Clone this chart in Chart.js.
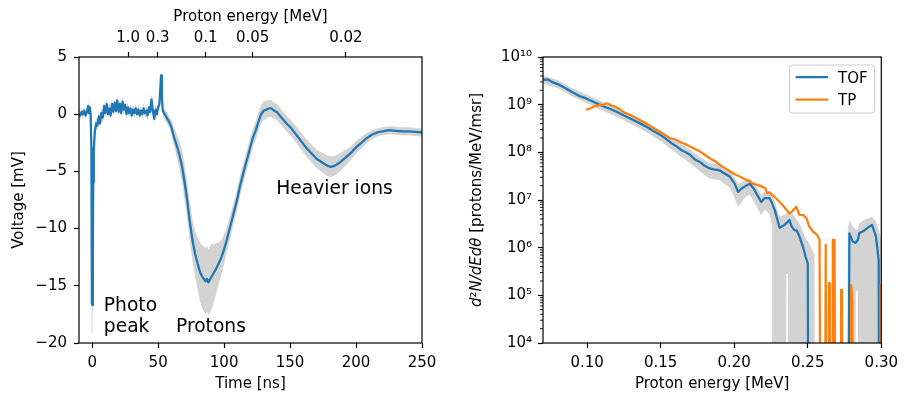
<!DOCTYPE html>
<html lang="en">
<head>
<meta charset="utf-8">
<title>Proton time-of-flight spectrum</title>
<script src="https://cdn.jsdelivr.net/npm/chart.js@4.4.1/dist/chart.umd.min.js"></script>
<style>
	html, body { margin: 0; padding: 0; background: #fff; }
	.figure { position: relative; width: 904px; height: 396px; }
	.panel { position: absolute; top: 0; width: 452px; height: 396px; }
	.panel--left { left: 0; }
	.panel--right { left: 452px; }
</style>
</head>
<body>
<div class="figure">
	<div class="panel panel--left"><canvas id="traceChart"></canvas></div>
	<div class="panel panel--right"><canvas id="spectrumChart"></canvas></div>
</div>
<script>
// ---- detector trace (left panel) ----
const timeNs = [
	-10, -9, -8, -7, -6, -5, -4, -3, -2.4, -1.8,
	-1.2, -0.6, -0.35, -0.15, 0.25, 0.5, 0.8, 1.2, 2.0, 3.0,
	4, 5, 6, 7, 8, 9, 10, 11, 12, 13,
	14, 15, 16, 17, 18, 19, 20, 21, 22, 23,
	24, 25, 26, 27, 28, 29, 30, 31, 32, 33,
	34, 35, 36, 37, 38, 39, 40, 41, 42, 43,
	44, 45, 46, 47, 48, 49, 50, 51, 51.6, 52.2,
	52.8, 53.5, 54.5, 56, 58, 60, 62, 64, 66, 68,
	70, 72, 74, 76, 78, 80, 82, 84, 86, 87,
	88, 90, 92, 94, 96, 98, 100, 102, 104, 106,
	108, 110, 112, 114, 116, 118, 120, 122, 124, 126,
	128, 130, 132, 134, 136, 138, 140, 142, 145, 148,
	150, 154, 158, 162, 166, 170, 174, 178, 181, 184,
	188, 192, 196, 200, 204, 208, 212, 216, 220, 225,
	230, 235, 240, 245, 250
];
const voltageMv = [
	0.0, -0.1, 0.2, 0.0, 0.3, -0.1, 0.2, 0.7, 0.1, 0.6,
	0.0, -3.0, -12.0, -16.5, -16.7, -12.0, -6.0, -3.2, -1.5, -0.8,
	-1.0, -0.2, -0.8, 0.1, -0.3, 0.7, 0.1, 0.9, 0.0, 0.5,
	-0.1, 0.9, 0.2, 1.0, 0.3, 1.2, 0.2, 0.9, 0.1, 1.1,
	0.4, 0.8, 0.0, 0.6, 0.1, 0.5, -0.1, 0.4, 0.1, 0.5,
	0.0, 0.4, -0.1, 0.3, 0.0, 0.5, 0.1, 0.3, -0.1, 0.6,
	0.2, 1.3, 0.3, -0.4, 0.4, 0.0, 0.6, 0.9, 2.2, 3.4,
	1.6, 0.3, 0.1, -0.2, -0.6, -1.1, -2.0, -2.7, -3.5, -4.5,
	-5.9, -7.5, -9.4, -11.0, -12.2, -13.1, -13.9, -14.3, -14.6, -14.4,
	-14.7, -14.3, -13.9, -13.5, -13.0, -12.5, -11.8, -11.0, -10.1, -9.2,
	-8.3, -7.4, -6.3, -5.4, -4.5, -3.7, -2.8, -2.0, -1.4, -0.7,
	0.0, 0.3, 0.4, 0.5, 0.5, 0.3, 0.2, -0.1, -0.5, -0.9,
	-1.1, -1.7, -2.3, -2.9, -3.4, -3.9, -4.2, -4.5, -4.6, -4.5,
	-4.2, -3.8, -3.4, -2.9, -2.5, -2.1, -1.8, -1.6, -1.5, -1.4,
	-1.45, -1.5, -1.5, -1.55, -1.6
];
// shot-to-shot spread, drawn as the grey band
const voltageErr = [
	0.35, 0.35, 0.35, 0.35, 0.35, 0.35, 0.35, 0.45, 0.4, 0.4,
	0.4, 0.8, 2.0, 2.6, 2.5, 2.0, 1.2, 0.8, 0.6, 0.5,
	0.45, 0.45, 0.45, 0.45, 0.45, 0.45, 0.45, 0.45, 0.45, 0.45,
	0.45, 0.45, 0.45, 0.45, 0.45, 0.45, 0.45, 0.45, 0.45, 0.45,
	0.45, 0.45, 0.45, 0.45, 0.45, 0.45, 0.45, 0.45, 0.45, 0.45,
	0.45, 0.45, 0.45, 0.45, 0.45, 0.45, 0.45, 0.45, 0.45, 0.45,
	0.45, 0.45, 0.45, 0.45, 0.45, 0.45, 0.45, 0.45, 0.4, 0.4,
	0.45, 0.45, 0.45, 0.5, 0.5, 0.6, 0.8, 1.0, 1.2, 1.4,
	1.5, 1.6, 1.7, 1.8, 2.0, 2.3, 2.6, 2.8, 2.9, 2.9,
	2.9, 2.9, 2.6, 2.2, 1.8, 1.5, 1.3, 1.1, 1.0, 0.95,
	0.9, 0.9, 0.9, 0.85, 0.85, 0.85, 0.85, 0.8, 0.8, 0.8,
	0.8, 0.8, 0.8, 0.75, 0.75, 0.7, 0.7, 0.7, 0.7, 0.7,
	0.7, 0.7, 0.75, 0.75, 0.8, 0.8, 0.85, 0.9, 0.9, 0.85,
	0.8, 0.7, 0.6, 0.55, 0.5, 0.45, 0.4, 0.35, 0.35, 0.35,
	0.35, 0.35, 0.35, 0.35, 0.35
];
const timeTicks = [0, 50, 100, 150, 200, 250];
const voltageTicks = [-20, -15, -10, -5, 0, 5];
const topEnergyTicks = [1.0, 0.3, 0.1, 0.05, 0.02];
const topEnergyLabels = ['1.0', '0.3', '0.1', '0.05', '0.02'];

// ---- proton spectrum (right panel), 0 = empty bin ----
const tofEnergy = [
	0.0700, 0.0715, 0.0730, 0.0745, 0.0760, 0.0800, 0.0850, 0.0900, 0.0950, 0.1000,
	0.1050, 0.1100, 0.1150, 0.1200, 0.1250, 0.1300, 0.1350, 0.1400, 0.1450, 0.1500,
	0.1550, 0.1580, 0.1610, 0.1640, 0.1670, 0.1700, 0.1730, 0.1766, 0.1800, 0.1834,
	0.1860, 0.1900, 0.1940, 0.1970, 0.2003, 0.2026, 0.2050, 0.2070, 0.2105, 0.2130,
	0.2150, 0.2184, 0.2207, 0.2240, 0.2255, 0.2275, 0.2309, 0.2342, 0.2376, 0.2390,
	0.2410, 0.2425, 0.2444, 0.2467, 0.2485, 0.2500, 0.2508, 0.2772, 0.2783, 0.2805,
	0.2825, 0.2840, 0.2850, 0.2885, 0.2918, 0.2937, 0.2964, 0.2982, 0.2988, 0.3000
];
const tofCounts = [
	3.4e9, 3.3e9, 3.4e9, 3.2e9, 3.0e9, 2.7e9, 2.24e9, 1.82e9, 1.51e9, 1.32e9,
	1.12e9, 9.5e8, 8.3e8, 7.1e8, 5.9e8, 5.0e8, 4.2e8, 3.5e8, 2.8e8, 2.3e8,
	1.78e8, 1.51e8, 1.32e8, 1.12e8, 1.0e8, 8.9e7, 7.2e7, 6.3e7, 5.2e7, 4.6e7,
	4.4e7, 4.2e7, 3.5e7, 3.1e7, 2.2e7, 1.48e7, 1.74e7, 1.91e7, 2.2e7, 1.78e7,
	1.38e7, 9.1e6, 1.1e7, 1.1e7, 8.9e6, 6.2e6, 2.6e6, 3.0e6, 3.8e6, 2.8e6,
	2.3e6, 2.3e6, 1.7e6, 1.05e6, 6.5e5, 4.7e5, 0, 0, 2.0e6, 1.35e6,
	1.26e6, 1.45e6, 2.0e6, 2.3e6, 2.75e6, 3.0e6, 1.7e6, 5.5e5, 0, 0
];
const bandEnergy = [
	0.0700, 0.0800, 0.0900, 0.1000, 0.1100, 0.1200, 0.1300, 0.1400, 0.1500, 0.1580,
	0.1640, 0.1700, 0.1766, 0.1834, 0.1900, 0.1970, 0.2003, 0.2026, 0.2070, 0.2105,
	0.2150, 0.2184, 0.2207, 0.2240, 0.2258, 0.2262, 0.2309, 0.2350, 0.2354, 0.2365,
	0.2370, 0.2400, 0.2444, 0.2485, 0.2512, 0.2546, 0.2550, 0.2765, 0.2772, 0.2783,
	0.2805, 0.2825, 0.2826, 0.2840, 0.2841, 0.2850, 0.2885, 0.2937, 0.2964, 0.2982,
	0.3000
];
const bandHi = [
	4.1e9, 3.3e9, 2.2e9, 1.62e9, 1.17e9, 8.7e8, 6.2e8, 4.4e8, 2.9e8, 1.95e8,
	1.5e8, 1.15e8, 8.1e7, 6.0e7, 5.5e7, 4.0e7, 3.0e7, 2.2e7, 2.6e7, 2.9e7,
	1.9e7, 1.3e7, 1.5e7, 1.5e7, 1.3e7, 1.2e7, 4.5e6, 5.0e6, 5.2e6, 5.6e6,
	5.8e6, 5.0e6, 3.2e6, 1.6e6, 1.2e6, 7e5, 0, 0, 2.5e6, 3.7e6,
	2.8e6, 2.4e6, 2.4e6, 2.4e6, 2.5e6, 3.3e6, 3.8e6, 4.4e6, 3.5e6, 2.5e6,
	1.5e6
];
const bandLo = [
	2.75e9, 2.2e9, 1.48e9, 1.07e9, 7.6e8, 5.6e8, 3.9e8, 2.7e8, 1.7e8, 1.1e8,
	8.0e7, 6.0e7, 4.0e7, 2.8e7, 2.6e7, 1.8e7, 1.1e7, 7.1e6, 1.1e7, 1.3e7,
	7.6e6, 4.8e6, 6.3e6, 5.0e6, 3.0e6, 0, 0, 0, 2.8e5, 2.8e5,
	0, 0, 0, 0, 0, 0, 0, 0, 0, 0,
	0, 0, 1.25e5, 1.25e5, 0, 0, 0, 0, 0, 0,
	0
];
const tpEnergy = [
	0.0993, 0.1010, 0.1030, 0.1050, 0.1070, 0.1090, 0.1110, 0.1130, 0.1150, 0.1170,
	0.1190, 0.1220, 0.1250, 0.1300, 0.1340, 0.1380, 0.1420, 0.1460, 0.1495, 0.1530,
	0.1560, 0.1600, 0.1630, 0.1670, 0.1700, 0.1740, 0.1766, 0.1800, 0.1830, 0.1870,
	0.1900, 0.1940, 0.1970, 0.2000, 0.2037, 0.2070, 0.2100, 0.2130, 0.2173, 0.2210,
	0.2225, 0.2240, 0.2270, 0.2309, 0.2340, 0.2376, 0.2400, 0.2422, 0.2444, 0.2470,
	0.2490, 0.2510, 0.2534, 0.2560, 0.2580, 0.2590, 0.2615, 0.2622, 0.2630, 0.2640,
	0.2645, 0.2650, 0.2665, 0.2670, 0.2676, 0.2682, 0.2690, 0.2722, 0.2727, 0.2732,
	0.2790, 0.2795, 0.2803, 0.2812, 0.2990, 0.2995, 0.3000
];
const tpCounts = [
	7.9e8, 8.1e8, 8.5e8, 9.3e8, 9.5e8, 1.0e9, 9.8e8, 1.07e9, 1.02e9, 9.5e8,
	9.1e8, 8.1e8, 6.9e8, 5.9e8, 5.1e8, 4.4e8, 3.7e8, 3.1e8, 2.7e8, 2.3e8,
	2.0e8, 1.86e8, 1.66e8, 1.48e8, 1.32e8, 1.15e8, 1.05e8, 8.9e7, 7.6e7, 6.5e7,
	5.5e7, 4.6e7, 4.0e7, 3.5e7, 3.1e7, 2.75e7, 2.5e7, 2.2e7, 2.0e7, 1.78e7,
	1.38e7, 1.45e7, 1.2e7, 9.1e6, 7.1e6, 5.2e6, 6.0e6, 7.2e6, 4.9e6, 4.8e6,
	4.2e6, 2.8e6, 2.2e6, 1.9e6, 1.5e6, 0, 0, 1.15e6, 0, 0,
	1.8e5, 0, 0, 1.45e6, 2.0e5, 1.45e6, 0, 0, 1.3e5, 0,
	0, 1.65e5, 8e4, 0, 0, 1.65e5, 1.65e5
];
const energyTicks = [0.10, 0.15, 0.20, 0.25, 0.30];
const countTicks = [1e4, 1e5, 1e6, 1e7, 1e8, 1e9, 1e10];
const seriesNames = ['TOF', 'TP'];

(function () {
	const BLUE = '#1f77b4';
	const ORANGE = '#ff7f0e';
	const BAND = '#d3d3d3';
	const FONT = '"DejaVu Sans"';
	// flight time [ns] = FLIGHT_K / sqrt(E [MeV])
	const FLIGHT_K = 27.2;
	// empty bins sit far below the log axis so the line drops straight out
	const EMPTY_BIN = 1e-2;

	const minus = (v) => String(v).replace('-', '\u2212');
	const sup = (n) => String(n).split('').map(c => '\u2070\u00b9\u00b2\u00b3\u2074\u2075\u2076\u2077\u2078\u2079'[+c]).join('');
	const pts = (xs, ys) => xs.map((x, i) => ({ x, y: ys[i] }));
	const logPts = (xs, ys) => xs.map((x, i) => ({ x, y: ys[i] > 0 ? ys[i] : EMPTY_BIN }));

	const tickGrid = {
		drawOnChartArea: false,
		drawTicks: true,
		tickLength: 5,
		tickWidth: 1.2,
		tickColor: '#000'
	};

	const lineStyle = {
		borderWidth: 2.25,
		borderJoinStyle: 'round',
		borderCapStyle: 'butt',
		pointRadius: 0,
		tension: 0,
		fill: false
	};

	const bandStyle = {
		borderColor: 'rgba(0,0,0,0)',
		borderWidth: 0,
		pointRadius: 0
	};

	const framePlugin = {
		id: 'frame',
		afterDatasetsDraw(chart) {
			const { ctx, chartArea: a } = chart;
			ctx.save();
			ctx.strokeStyle = '#000';
			ctx.lineWidth = 1.2;
			ctx.strokeRect(a.left, a.top, a.right - a.left, a.bottom - a.top);
			ctx.restore();
		}
	};

	const app = {
		traceChart() {
			const el = document.getElementById('traceChart');
			if (!el) return;

			const notes = [
				{ lines: ['Photo', 'peak'], t: 8.8, v: -19 },
				{ lines: ['Protons'], t: 63.5, v: -19 },
				{ lines: ['Heavier ions'], t: 139.5, v: -7 }
			];

			const notesPlugin = {
				id: 'traceNotes',
				afterDatasetsDraw(chart) {
					const { ctx, scales: { x, y } } = chart;
					ctx.save();
					ctx.font = '18.7px ' + FONT;
					ctx.fillStyle = '#000';
					ctx.textBaseline = 'alphabetic';
					notes.forEach((n) => {
						const base = y.getPixelForValue(n.v);
						n.lines.forEach((line, k) => {
							const dy = (n.lines.length - 1 - k) * 20.5;
							ctx.fillText(line, x.getPixelForValue(n.t), base - dy);
						});
					});
					ctx.restore();
				}
			};

			new Chart(el, {
				type: 'line',
				data: {
					datasets: [{
						...lineStyle,
						data: pts(timeNs, voltageMv),
						borderColor: BLUE
					}, {
						...bandStyle,
						data: pts(timeNs, voltageMv.map((v, i) => v + voltageErr[i])),
						backgroundColor: BAND,
						fill: '+1'
					}, {
						...bandStyle,
						data: pts(timeNs, voltageMv.map((v, i) => v - voltageErr[i])),
						fill: false
					}]
				},
				options: {
					responsive: true,
					maintainAspectRatio: false,
					animation: false,
					events: [],
					layout: { padding: { left: 0, right: 30, top: 0, bottom: 0 } },
					plugins: { legend: { display: false }, tooltip: { enabled: false } },
					scales: {
						x: {
							type: 'linear',
							position: 'bottom',
							min: -10,
							max: 250,
							border: { display: false },
							grid: tickGrid,
							afterBuildTicks: (s) => { s.ticks = timeTicks.map(v => ({ value: v })); },
							afterFit: (s) => { s.height = 53; },
							ticks: { padding: 6, maxRotation: 0, autoSkip: false, callback: v => minus(v) },
							title: { display: true, text: 'Time [ns]', padding: { top: 0, bottom: 3 } }
						},
						x2: {
							type: 'linear',
							position: 'top',
							min: -10,
							max: 250,
							border: { display: false },
							grid: tickGrid,
							afterBuildTicks: (s) => { s.ticks = topEnergyTicks.map(e => ({ value: FLIGHT_K / Math.sqrt(e) })); },
							afterFit: (s) => { s.height = 57; },
							ticks: { padding: 5, maxRotation: 0, autoSkip: false, callback: (v, i) => topEnergyLabels[i] },
							title: { display: true, text: 'Proton energy [MeV]', padding: { top: 8, bottom: 0 } }
						},
						y: {
							type: 'linear',
							min: -20,
							max: 5,
							border: { display: false },
							grid: tickGrid,
							afterBuildTicks: (s) => { s.ticks = voltageTicks.map(v => ({ value: v })); },
							afterFit: (s) => { s.width = 79; },
							ticks: { padding: 7, callback: v => minus(v) },
							title: { display: true, text: 'Voltage [mV]', padding: { top: 10, bottom: 0 } }
						}
					}
				},
				plugins: [framePlugin, notesPlugin]
			});
		},

		spectrumChart() {
			const el = document.getElementById('spectrumChart');
			if (!el) return;

			// minor decade ticks (2..9) on the log axis
			const minorTicksPlugin = {
				id: 'minorTicks',
				afterDraw(chart) {
					const { ctx, chartArea: a, scales: { y } } = chart;
					ctx.save();
					ctx.strokeStyle = '#000';
					ctx.lineWidth = 0.9;
					ctx.beginPath();
					for (let e = 4; e < 10; e++) {
						for (let m = 2; m <= 9; m++) {
							const py = y.getPixelForValue(m * Math.pow(10, e));
							ctx.moveTo(a.left, py);
							ctx.lineTo(a.left - 3, py);
						}
					}
					ctx.stroke();
					ctx.restore();
				}
			};

			const yTitlePlugin = {
				id: 'yTitle',
				afterDraw(chart) {
					const { ctx, chartArea: a } = chart;
					const parts = [
						{ text: 'd', italic: true },
						{ text: '\u00b2', italic: false },
						{ text: 'N/dEd\u03b8', italic: true },
						{ text: ' [protons/MeV/msr]', italic: false }
					];
					const fontFor = p => (p.italic ? 'italic ' : '') + '15px ' + FONT;
					ctx.save();
					let total = 0;
					parts.forEach((p) => { ctx.font = fontFor(p); p.w = ctx.measureText(p.text).width; total += p.w; });
					ctx.translate(25.5, (a.top + a.bottom) / 2);
					ctx.rotate(-Math.PI / 2);
					ctx.fillStyle = '#000';
					ctx.textBaseline = 'middle';
					let cx = -total / 2;
					parts.forEach((p) => {
						ctx.font = fontFor(p);
						ctx.fillText(p.text, cx, 0);
						cx += p.w;
					});
					ctx.restore();
				}
			};

			const legendPlugin = {
				id: 'boxLegend',
				afterDraw(chart) {
					const { ctx, chartArea: a } = chart;
					const w = 85, h = 48;
					const x0 = a.right - 6.7 - w;
					const y0 = a.top + 8;
					const colors = [BLUE, ORANGE];
					ctx.save();
					ctx.beginPath();
					ctx.roundRect(x0, y0, w, h, 3);
					ctx.fillStyle = 'rgba(255,255,255,0.8)';
					ctx.fill();
					ctx.strokeStyle = '#cccccc';
					ctx.lineWidth = 1;
					ctx.stroke();
					ctx.font = '15px ' + FONT;
					ctx.textBaseline = 'alphabetic';
					seriesNames.forEach((name, k) => {
						const ly = y0 + 12 + k * 22.5;
						ctx.beginPath();
						ctx.moveTo(x0 + 6, ly);
						ctx.lineTo(x0 + 38.5, ly);
						ctx.strokeStyle = colors[k];
						ctx.lineWidth = 2.25;
						ctx.stroke();
						ctx.fillStyle = '#000';
						ctx.fillText(name, x0 + 48.5, ly + 5.8);
					});
					ctx.restore();
				}
			};

			new Chart(el, {
				type: 'line',
				data: {
					datasets: [{
						...lineStyle,
						label: seriesNames[0],
						data: logPts(tofEnergy, tofCounts),
						borderColor: BLUE,
						order: 1
					}, {
						...lineStyle,
						label: seriesNames[1],
						data: logPts(tpEnergy, tpCounts),
						borderColor: ORANGE,
						order: 0
					}, {
						...bandStyle,
						data: logPts(bandEnergy, bandHi),
						backgroundColor: BAND,
						fill: '+1',
						order: 2
					}, {
						...bandStyle,
						data: logPts(bandEnergy, bandLo),
						fill: false,
						order: 3
					}]
				},
				options: {
					responsive: true,
					maintainAspectRatio: false,
					animation: false,
					events: [],
					layout: { padding: { left: 0, right: 19, top: 57, bottom: 0 } },
					plugins: { legend: { display: false }, tooltip: { enabled: false } },
					scales: {
						x: {
							type: 'linear',
							min: 0.07,
							max: 0.30,
							border: { display: false },
							grid: tickGrid,
							afterBuildTicks: (s) => { s.ticks = energyTicks.map(v => ({ value: v })); },
							afterFit: (s) => { s.height = 53; },
							ticks: { padding: 6, maxRotation: 0, autoSkip: false, callback: v => v.toFixed(2) },
							title: { display: true, text: 'Proton energy [MeV]', padding: { top: 0, bottom: 3 } }
						},
						y: {
							type: 'logarithmic',
							min: 1e4,
							max: 1e10,
							border: { display: false },
							grid: tickGrid,
							afterBuildTicks: (s) => { s.ticks = countTicks.map(v => ({ value: v })); },
							afterFit: (s) => { s.width = 91; },
							ticks: { padding: 6, callback: v => '10' + sup(Math.round(Math.log10(v))) }
						}
					}
				},
				plugins: [framePlugin, minorTicksPlugin, yTitlePlugin, legendPlugin]
			});
		},

		init() {
			Chart.defaults.font.family = FONT;
			Chart.defaults.font.size = 15;
			Chart.defaults.color = '#000';
			Chart.defaults.devicePixelRatio = 1;
			app.traceChart();
			app.spectrumChart();
		}
	};

	window.app = app;
})();

document.addEventListener('DOMContentLoaded', () => {
	window.app?.init?.();
});
</script>
</body>
</html>
